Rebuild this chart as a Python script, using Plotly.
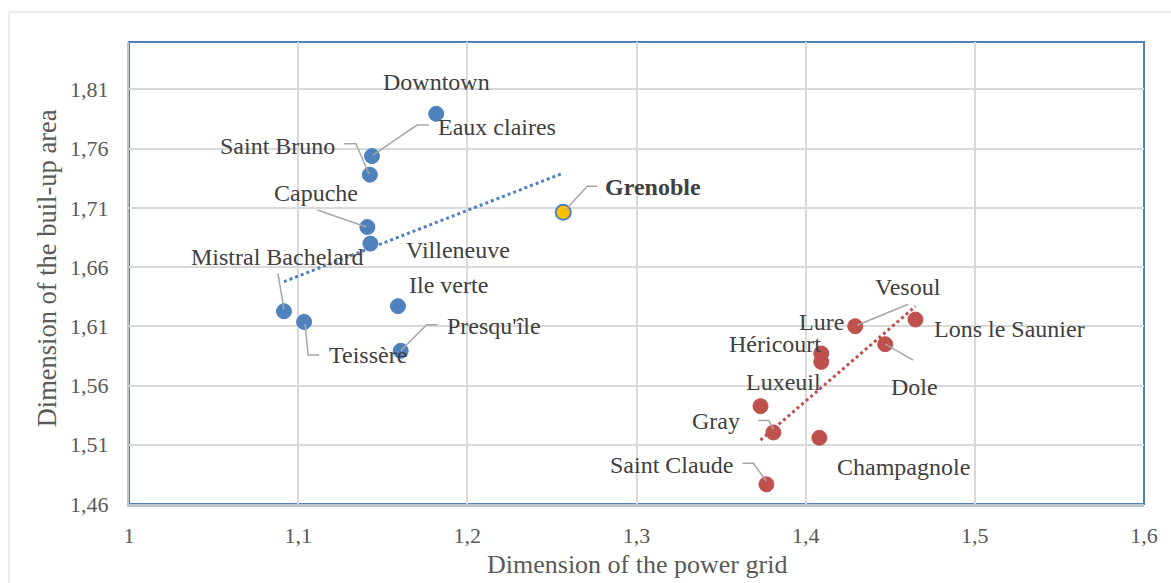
import numpy as np
import plotly.graph_objects as go

# Grenoble districts (and the whole city)
grenoble_names = ["Downtown", "Eaux claires", "Saint Bruno", "Capuche", "Villeneuve",
                  "Grenoble", "Mistral Bachelard", "Teissère", "Ile verte", "Presqu'île"]
grenoble_grid = [1.1816, 1.1436, 1.1424, 1.1409, 1.1427, 1.2567, 1.0916, 1.1035, 1.1590, 1.1606]
grenoble_built = [1.7894, 1.7537, 1.7380, 1.6938, 1.6798, 1.7062, 1.6227, 1.6137, 1.6270, 1.5893]

# Small towns
town_names = ["Lons le Saunier", "Vesoul", "Dole", "Lure", "Héricourt", "Luxeuil",
              "Gray", "Champagnole", "Saint Claude"]
town_grid = [1.4649, 1.4293, 1.4470, 1.4092, 1.4092, 1.3733, 1.3809, 1.4081, 1.3768]
town_built = [1.6157, 1.6101, 1.5949, 1.5871, 1.5800, 1.5426, 1.5204, 1.5159, 1.4766]

x_tick_values = [1.0, 1.1, 1.2, 1.3, 1.4, 1.5, 1.6]
x_tick_labels = ["1", "1,1", "1,2", "1,3", "1,4", "1,5", "1,6"]
y_tick_values = [1.46, 1.51, 1.56, 1.61, 1.66, 1.71, 1.76, 1.81]
y_tick_labels = ["1,46", "1,51", "1,56", "1,61", "1,66", "1,71", "1,76", "1,81"]

x_title = "Dimension of the power grid"
y_title = "Dimension of the buil-up area"

BLUE = "#4F81BD"
RED = "#C0504D"
HIGHLIGHT = "#FFC000"
TEXT = "#404040"
AXIS_TEXT = "#595959"
GRID = "#D9D9D9"
LEADER = "#A6A6A6"
FONT = "Liberation Serif"

# Label placement: text offset from the point (screen px, +y down) and leader polyline
label_style = {
    "Downtown": ((0, -32), None),
    "Eaux claires": ((125, -29), [(1, -1), (45, -31), (57, -31)]),
    "Saint Bruno": ((-92, -29), [(-26, -31), (-14, -31), (-1, -1)]),
    "Capuche": ((-51, -34), [(-50, -17), (-1, 0)]),
    "Villeneuve": ((88, 6), None),
    "Grenoble": ((90, -25), [(2, -2), (24, -26), (34, -26)]),
    "Mistral Bachelard": ((-6, -54), [(-6, -38), (0, -2)]),
    "Teissère": ((64, 33), [(1, 2), (4, 33), (15, 33)]),
    "Ile verte": ((51, -21), None),
    "Presqu'île": ((93, -25), [(0, 0), (26, -26), (37, -26)]),
    "Lons le Saunier": ((94, 9), None),
    "Vesoul": ((53, -39), [(53, -22), (2, -1)]),
    "Dole": ((29, 43), [(28, 16), (0, 0)]),
    "Lure": ((0, -31), None),
    "Héricourt": ((-46, -18), None),
    "Luxeuil": ((23, -24), None),
    "Gray": ((-57, -11), [(-15, -12), (-4.5, -12), (0, -3)]),
    "Champagnole": ((84, 29), None),
    "Saint Claude": ((-95, -19), [(-24, -21), (-13, -21), (0, -3)]),
}

fig = go.Figure()

# Markers
fig.add_trace(go.Scatter(
    x=grenoble_grid, y=grenoble_built, mode="markers", name="Grenoble",
    text=grenoble_names, hoverinfo="text+x+y",
    marker=dict(size=15,
                color=[HIGHLIGHT if n == "Grenoble" else BLUE for n in grenoble_names],
                line=dict(color=BLUE, width=[2 if n == "Grenoble" else 1 for n in grenoble_names])),
))
fig.add_trace(go.Scatter(
    x=town_grid, y=town_built, mode="markers", name="Towns",
    text=town_names, hoverinfo="text+x+y",
    marker=dict(size=15, color=RED, line=dict(color=RED, width=1)),
))

# Linear trend lines fitted to each group
for xs, ys, col in [(grenoble_grid, grenoble_built, BLUE), (town_grid, town_built, RED)]:
    slope, intercept = np.polyfit(xs, ys, 1)
    tx = np.array([min(xs), max(xs)])
    fig.add_trace(go.Scatter(
        x=tx, y=slope * tx + intercept, mode="lines", hoverinfo="skip",
        line=dict(color=col, width=3, dash="dot"),
    ))

annotations = []
shapes = []
for names, xs, ys in [(grenoble_names, grenoble_grid, grenoble_built),
                      (town_names, town_grid, town_built)]:
    for n, x, y in zip(names, xs, ys):
        (dx, dy), leader = label_style[n]
        txt = f"<b>{n}</b>" if n == "Grenoble" else n
        annotations.append(dict(
            x=x, y=y, xref="x", yref="y", text=txt, showarrow=False,
            xshift=dx, yshift=-dy, xanchor="center", yanchor="middle",
            font=dict(family=FONT, size=24, color=TEXT),
        ))
        if leader:
            path = "M " + " L ".join(f"{px},{-py}" for px, py in leader)
            shapes.append(dict(
                type="path", xref="x", yref="y", xsizemode="pixel", ysizemode="pixel",
                xanchor=x, yanchor=y, path=path, layer="above",
                line=dict(color=LEADER, width=1.5),
            ))

# Axis titles
annotations.append(dict(
    x=0.5, y=-0.132, xref="paper", yref="paper", text=x_title, showarrow=False,
    xanchor="center", yanchor="middle", font=dict(family=FONT, size=26, color=AXIS_TEXT),
))
annotations.append(dict(
    x=-0.0808, y=0.51, xref="paper", yref="paper", text=y_title, showarrow=False,
    textangle=-90, xanchor="center", yanchor="middle",
    font=dict(family=FONT, size=26.5, color=AXIS_TEXT),
))

# Chart frame and plot-area border
shapes.append(dict(type="rect", xref="paper", yref="paper", x0=-0.1182, y0=-0.3,
                   x1=1.2, y1=1.0649, line=dict(color=GRID, width=1), layer="below"))
shapes.append(dict(type="rect", xref="paper", yref="paper", x0=0, y0=0, x1=1, y1=1,
                   line=dict(color=BLUE, width=2), layer="below"))

fig.update_layout(
    width=1171, height=583,
    margin=dict(l=129, r=27, t=42, b=79),
    paper_bgcolor="white", plot_bgcolor="white",
    showlegend=False,
    font=dict(family=FONT, color=AXIS_TEXT),
    annotations=annotations, shapes=shapes,
    xaxis=dict(range=[1.0, 1.6], tickvals=x_tick_values, ticktext=x_tick_labels,
               showgrid=True, gridcolor=GRID, gridwidth=1.5, zeroline=False,
               showline=True, linecolor="#BFC5CF", linewidth=2.5, ticks="",
               ticklabelstandoff=10, tickfont=dict(family=FONT, size=22, color=AXIS_TEXT)),
    yaxis=dict(range=[1.46, 1.85], tickvals=y_tick_values, ticktext=y_tick_labels,
               showgrid=True, gridcolor=GRID, gridwidth=1.5, zeroline=False,
               showline=True, linecolor="#BFC5CF", linewidth=2, ticks="",
               ticklabelstandoff=14, tickfont=dict(family=FONT, size=22, color=AXIS_TEXT)),
)

fig.write_html("out.html")
